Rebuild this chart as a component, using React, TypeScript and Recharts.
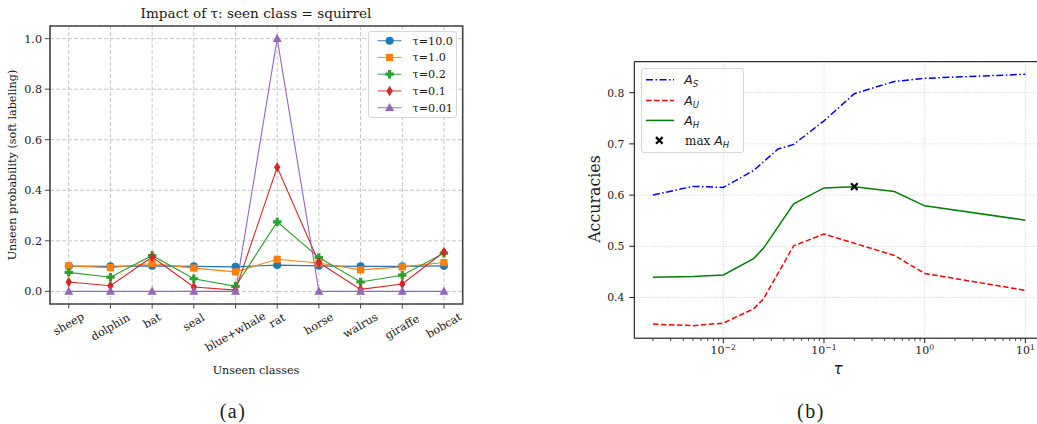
import React from 'react';
import {
  LineChart,
  Line,
  XAxis,
  YAxis,
  CartesianGrid,
  ReferenceArea,
  ReferenceLine,
  Legend,
} from 'recharts';

// ---------------- Data: panel (a) ----------------
const classes = ['sheep', 'dolphin', 'bat', 'seal', 'blue+whale', 'rat', 'horse', 'walrus', 'giraffe', 'bobcat'];
const probTau10 = [0.1, 0.099, 0.101, 0.099, 0.097, 0.104, 0.101, 0.099, 0.099, 0.101];
const probTau1 = [0.101, 0.094, 0.11, 0.092, 0.077, 0.127, 0.112, 0.085, 0.097, 0.114];
const probTau02 = [0.075, 0.056, 0.142, 0.05, 0.02, 0.275, 0.134, 0.037, 0.064, 0.151];
const probTau01 = [0.037, 0.022, 0.136, 0.017, 0.005, 0.491, 0.114, 0.008, 0.029, 0.156];
const probTau001 = [0, 0, 0, 0, 0, 1.0, 0, 0, 0, 0];
const leftYTicks = [0, 0.2, 0.4, 0.6, 0.8, 1.0];
const leftSeriesNames = ['τ=10.0', 'τ=1.0', 'τ=0.2', 'τ=0.1', 'τ=0.01'];

// ---------------- Data: panel (b) ----------------
const tauValues = [0.002, 0.005, 0.01, 0.02, 0.025, 0.035, 0.05, 0.1, 0.2, 0.5, 1, 10];
const accS = [0.6, 0.617, 0.615, 0.648, null, 0.69, 0.699, 0.745, 0.798, 0.822, 0.828, 0.836];
const accU = [0.348, 0.345, 0.35, 0.378, 0.397, null, 0.501, 0.524, 0.506, 0.482, 0.447, 0.414];
const accH = [0.4395, 0.441, 0.444, 0.476, 0.496, null, 0.583, 0.614, 0.6165, 0.607, 0.579, 0.551];
const maxTau = 0.2;
const maxAH = 0.6165;
const rightYTicks = [0.4, 0.5, 0.6, 0.7, 0.8];
const rightMajorTicks = [0.01, 0.1, 1, 10];
const rightMajorExp = ['−2', '−1', '0', '1'];
const decadeStarts = [0.001, 0.01, 0.1, 1];
const minorMultipliers = [2, 3, 4, 5, 6, 7, 8, 9];

// ---------------- styling ----------------
const SERIF = "'DejaVu Serif', serif";
const SANS = "'DejaVu Sans', sans-serif";
const TEXT = '#1a1a1a';
const BASE = 11.2;

const leftKeys = ['t10', 't1', 't02', 't01', 't001'];
const leftColors = ['#1f77b4', '#ff7f0e', '#2ca02c', '#d62728', '#9467bd'];
const leftShapes = ['circle', 'square', 'plus', 'thindiamond', 'triangle'];
const leftArrays = [probTau10, probTau1, probTau02, probTau01, probTau001];

const leftData = classes.map((c, i) => {
  const row: any = { idx: i, name: c };
  leftKeys.forEach((k, j) => {
    row[k] = leftArrays[j][i];
  });
  return row;
});
const classIdx = classes.map((_, i) => i);
const leftXDomain = [-0.45, 9.45];
const leftYDomain = [-0.05, 1.05];

const rightData = tauValues.map((t, i) => ({
  tau: t,
  as: accS[i],
  au: accU[i],
  ah: accH[i],
  mx: t === maxTau ? maxAH : null,
}));
const rightXDomain = [0.001306, 15.31];
const rightYDomain = [0.3205, 0.8605];
const rightMinorTicks = decadeStarts
  .flatMap((d) => minorMultipliers.map((m) => +(d * m).toPrecision(3)))
  .filter((v) => v > rightXDomain[0] && v < rightXDomain[1]);

function Marker({ shape, cx, cy, color }: any) {
  switch (shape) {
    case 'circle':
      return <circle cx={cx} cy={cy} r={4} fill={color} />;
    case 'square':
      return <rect x={cx - 3.6} y={cy - 3.6} width={7.2} height={7.2} fill={color} />;
    case 'plus': {
      const a = 4.2;
      const b = 1.6;
      const pts = [
        [-b, -a], [b, -a], [b, -b], [a, -b], [a, b], [b, b],
        [b, a], [-b, a], [-b, b], [-a, b], [-a, -b], [-b, -b],
      ]
        .map(([x, y]) => `${cx + x},${cy + y}`)
        .join(' ');
      return <polygon points={pts} fill={color} />;
    }
    case 'thindiamond': {
      const pts = `${cx},${cy - 5.2} ${cx + 3.2},${cy} ${cx},${cy + 5.2} ${cx - 3.2},${cy}`;
      return <polygon points={pts} fill={color} />;
    }
    case 'triangle': {
      const pts = `${cx},${cy - 4.8} ${cx + 4.5},${cy + 3.3} ${cx - 4.5},${cy + 3.3}`;
      return <polygon points={pts} fill={color} />;
    }
    case 'x':
      return (
        <g stroke={color} strokeWidth={2.2}>
          <line x1={cx - 3.3} y1={cy - 3.3} x2={cx + 3.3} y2={cy + 3.3} />
          <line x1={cx - 3.3} y1={cy + 3.3} x2={cx + 3.3} y2={cy - 3.3} />
        </g>
      );
    default:
      return null;
  }
}

const makeDot = (shape: string, color: string, id: string) => (p: any) => {
  const k = `${id}-${p.index}`;
  if (p.cx == null || p.cy == null || p.value == null || (Array.isArray(p.value) && p.value[1] == null)) {
    return <g key={k} />;
  }
  return (
    <g key={k}>
      <Marker shape={shape} cx={p.cx} cy={p.cy} color={color} />
    </g>
  );
};

const RotTick = (props: any) => {
  const { x, y, payload } = props;
  const label = classes[payload.value];
  if (label == null) return null;
  const L = label.length * 6.4;
  const h = 10.5;
  const bh = L * 0.5 + h * 0.866;
  const cy = y + bh / 2;
  return (
    <text
      x={x}
      y={cy}
      textAnchor="middle"
      dominantBaseline="central"
      transform={`rotate(-30 ${x} ${cy})`}
      fontFamily={SERIF}
      fontSize={BASE}
      fill={TEXT}
    >
      {label}
    </text>
  );
};

const LogTick = (props: any) => {
  const { x, y, payload } = props;
  const v = payload.value;
  const mi = rightMajorTicks.findIndex((m) => Math.abs(m - v) / m < 1e-6);
  if (mi < 0) {
    return <line x1={x} x2={x} y1={y} y2={y + 2.8} stroke="#000" strokeWidth={0.7} />;
  }
  return (
    <g>
      <line x1={x} x2={x} y1={y} y2={y + 5} stroke="#000" strokeWidth={0.9} />
      <text x={x} y={y + 16} textAnchor="middle" fontFamily={SERIF} fontSize={11} fill={TEXT}>
        <tspan>10</tspan>
        <tspan dy={-4.5} fontSize={7.8}>
          {rightMajorExp[mi]}
        </tspan>
      </text>
    </g>
  );
};

const LeftLegend = () => (
  <div
    style={{
      width: 88.4,
      height: 86.7,
      boxSizing: 'border-box',
      border: '1px solid #d6d6d6',
      borderRadius: 3,
      background: 'rgba(255,255,255,0.85)',
      position: 'relative',
    }}
  >
    <svg width={88.4} height={86.7} style={{ position: 'absolute', left: -1, top: -1, overflow: 'visible' }}>
      {leftSeriesNames.map((n, i) => {
        const y = 9.7 + i * 16.75;
        return (
          <g key={n}>
            <line x1={9.7} x2={33.4} y1={y} y2={y} stroke={leftColors[i]} strokeWidth={1.1} opacity={0.85} />
            <Marker shape={leftShapes[i]} cx={21.6} cy={y} color={leftColors[i]} />
            <text x={44.5} y={y + 4} fontFamily={SERIF} fontSize={BASE} fill={TEXT}>
              {n}
            </text>
          </g>
        );
      })}
    </svg>
  </div>
);

const AText = ({ x, y, sub, prefix }: any) => (
  <text x={x} y={y} fill={TEXT}>
    {prefix ? (
      <tspan fontFamily={SERIF} fontSize={12}>
        {prefix}
      </tspan>
    ) : null}
    <tspan fontFamily={SANS} fontStyle="italic" fontSize={12.5}>
      A
    </tspan>
    <tspan fontFamily={SANS} fontStyle="italic" fontSize={8.5} dy={3}>
      {sub}
    </tspan>
  </text>
);

const RightLegend = () => {
  const rows = [11.7, 32.4, 52.4, 72.4];
  return (
    <div
      style={{
        width: 103.3,
        height: 85,
        boxSizing: 'border-box',
        border: '1px solid #d6d6d6',
        borderRadius: 3,
        background: 'rgba(255,255,255,0.85)',
        position: 'relative',
      }}
    >
      <svg width={103.3} height={85} style={{ position: 'absolute', left: -1, top: -1, overflow: 'visible' }}>
        <line x1={5} x2={33} y1={rows[0]} y2={rows[0]} stroke="#0000ff" strokeWidth={1.5} strokeDasharray="7 2.5 1.5 2.5" />
        <line x1={5} x2={33} y1={rows[1]} y2={rows[1]} stroke="#ff0000" strokeWidth={1.5} strokeDasharray="5.5 2.5" />
        <line x1={5} x2={33} y1={rows[2]} y2={rows[2]} stroke="#008000" strokeWidth={1.5} />
        <Marker shape="x" cx={18.3} cy={rows[3]} color="#000" />
        <AText x={43.3} y={rows[0] + 4.5} sub="S" />
        <AText x={43.3} y={rows[1] + 4.5} sub="U" />
        <AText x={43.3} y={rows[2] + 4.5} sub="H" />
        <AText x={44} y={rows[3] + 4.5} sub="H" prefix="max " />
      </svg>
    </div>
  );
};

const abs = (left: number, top: number, extra: any = {}) => ({
  position: 'absolute' as const,
  left,
  top,
  transform: 'translate(-50%, -50%)',
  whiteSpace: 'nowrap' as const,
  lineHeight: 1,
  color: TEXT,
  ...extra,
});

export default function App() {
  return (
    <div
      style={{
        position: 'absolute',
        left: 0,
        top: 0,
        width: 1037,
        height: 424,
        overflow: 'hidden',
        background: '#fff',
      }}
    >
      {/* Panel (a) */}
      <div style={{ position: 'absolute', left: 0, top: 0 }}>
        <LineChart width={480} height={424} data={leftData} margin={{ top: 26, right: 17.3, bottom: 60, left: 5 }}>
          <CartesianGrid stroke="#b8b8b8" strokeDasharray="4 2" strokeWidth={0.8} />
          <XAxis
            dataKey="idx"
            type="number"
            domain={leftXDomain}
            allowDataOverflow
            ticks={classIdx}
            interval={0}
            tick={<RotTick />}
            tickSize={4.5}
            tickMargin={3}
            axisLine={false}
            tickLine={{ stroke: '#444', strokeWidth: 1 }}
            height={60}
          />
          <YAxis
            type="number"
            domain={leftYDomain}
            allowDataOverflow
            ticks={leftYTicks}
            interval={0}
            tickFormatter={(v: number) => v.toFixed(1)}
            tick={{ fontFamily: SERIF, fontSize: BASE, fill: TEXT }}
            tickSize={5}
            tickMargin={3}
            axisLine={false}
            tickLine={{ stroke: '#444', strokeWidth: 1 }}
            width={45}
          />
          {leftKeys.map((k, i) => (
            <Line
              key={k}
              dataKey={k}
              stroke={leftColors[i]}
              strokeWidth={1.1}
              dot={makeDot(leftShapes[i], leftColors[i], k)}
              activeDot={false}
              isAnimationActive={false}
            />
          ))}
          <ReferenceArea
            x1={leftXDomain[0]}
            x2={leftXDomain[1]}
            y1={leftYDomain[0]}
            y2={leftYDomain[1]}
            fill="none"
            fillOpacity={0}
            stroke="#444"
            strokeWidth={1.6}
            ifOverflow="visible"
          />
          <Legend
            layout="vertical"
            align="center"
            verticalAlign="middle"
            content={() => <LeftLegend />}
            wrapperStyle={{ left: 368.3, top: 31, width: 88.4, height: 86.7 }}
          />
        </LineChart>
      </div>

      {/* Panel (b) */}
      <div style={{ position: 'absolute', left: 560, top: 0 }}>
        <LineChart width={500} height={424} data={rightData} margin={{ top: 61.7, right: 16, bottom: 45.8, left: 24.3 }}>
          <CartesianGrid vertical={false} stroke="#c4c4c4" strokeDasharray="1 1.6" strokeWidth={0.8} />
          {rightMajorTicks.map((v) => (
            <ReferenceLine key={v} x={v} stroke="#c4c4c4" strokeDasharray="1 1.6" strokeWidth={0.8} />
          ))}
          <XAxis
            dataKey="tau"
            type="number"
            scale="log"
            domain={rightXDomain}
            allowDataOverflow
            ticks={[...rightMajorTicks, ...rightMinorTicks]}
            interval={0}
            tick={<LogTick />}
            tickSize={0}
            tickMargin={0}
            tickLine={false}
            axisLine={false}
            height={40}
          />
          <YAxis
            type="number"
            domain={rightYDomain}
            allowDataOverflow
            ticks={rightYTicks}
            interval={0}
            tickFormatter={(v: number) => v.toFixed(1)}
            tick={{ fontFamily: SERIF, fontSize: 10.8, fill: TEXT }}
            tickSize={5}
            tickMargin={5}
            axisLine={false}
            tickLine={{ stroke: '#000', strokeWidth: 0.9 }}
            width={50}
          />
          <Line dataKey="as" stroke="#0000ff" strokeWidth={1.5} strokeDasharray="7 2.5 1.5 2.5" dot={false} activeDot={false} connectNulls isAnimationActive={false} />
          <Line dataKey="au" stroke="#ff0000" strokeWidth={1.5} strokeDasharray="5.5 2.5" dot={false} activeDot={false} connectNulls isAnimationActive={false} />
          <Line dataKey="ah" stroke="#008000" strokeWidth={1.5} dot={false} activeDot={false} connectNulls isAnimationActive={false} />
          <Line dataKey="mx" stroke="none" dot={makeDot('x', '#000', 'mx')} activeDot={false} isAnimationActive={false} />
          <ReferenceArea
            x1={rightXDomain[0]}
            x2={rightXDomain[1]}
            y1={rightYDomain[0]}
            y2={rightYDomain[1]}
            fill="none"
            fillOpacity={0}
            stroke="#000"
            strokeWidth={1}
            ifOverflow="visible"
          />
          <Legend
            layout="vertical"
            align="center"
            verticalAlign="middle"
            content={() => <RightLegend />}
            wrapperStyle={{ left: 81, top: 68.3, width: 103.3, height: 85 }}
          />
        </LineChart>
      </div>

      {/* Text labels */}
      <div style={abs(256, 14, { fontFamily: SERIF, fontSize: 13.6 })}>Impact of τ: seen class = squirrel</div>
      <div style={abs(13, 165, { fontFamily: SERIF, fontSize: BASE, transform: 'translate(-50%, -50%) rotate(-90deg)' })}>
        Unseen probability (soft labeling)
      </div>
      <div style={abs(256, 371, { fontFamily: SERIF, fontSize: BASE })}>Unseen classes</div>
      <div style={abs(595, 199, { fontFamily: SERIF, fontSize: 15.8, transform: 'translate(-50%, -50%) rotate(-90deg)' })}>
        Accuracies
      </div>
      <div style={abs(838, 369, { fontFamily: SANS, fontStyle: 'italic', fontSize: 15 })}>τ</div>
      <div style={abs(233, 411, { fontFamily: "'Liberation Serif', serif", fontSize: 20, letterSpacing: 1.5 })}>(a)</div>
      <div style={abs(811, 411, { fontFamily: "'Liberation Serif', serif", fontSize: 20, letterSpacing: 1.5 })}>(b)</div>
    </div>
  );
}
